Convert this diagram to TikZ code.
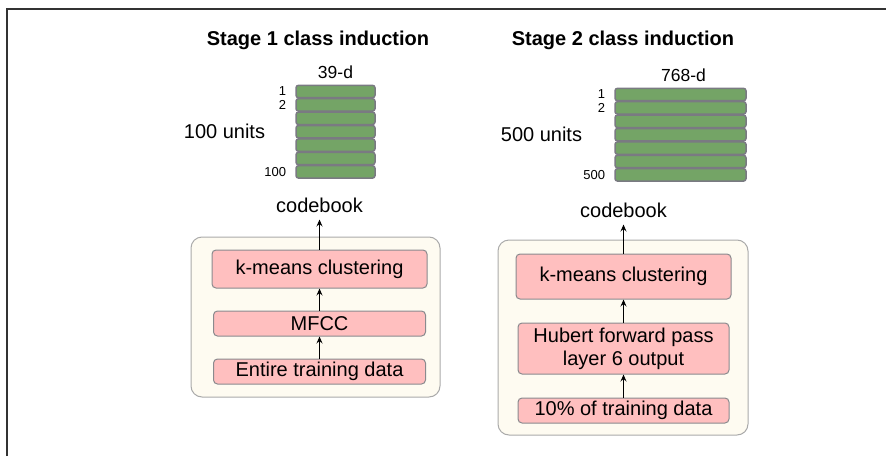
\documentclass[tikz,border=0pt]{standalone}
\usepackage{fontspec}
\setmainfont{Liberation Sans}
\usetikzlibrary{arrows,arrows.meta,positioning}
\definecolor{boxfill}{HTML}{FFBFBF}
\definecolor{boxline}{HTML}{8A8A8E}
\definecolor{barfill}{HTML}{74A466}
\definecolor{barline}{HTML}{7A7A82}
\definecolor{panelfill}{HTML}{FEFBF1}
\definecolor{panelline}{HTML}{AAAAAA}

\begin{document}
\begin{tikzpicture}[x=1pt,y=-1pt,node distance=22pt,
    font=\fontsize{20}{23}\selectfont,
    stepbox/.style={draw=boxline,fill=boxfill,rounded corners=4pt,line width=1pt,
      minimum width=212pt,minimum height=25pt,inner sep=1pt,align=center},
    unitbar/.style={draw=barline,fill=barfill,rounded corners=2.5pt,line width=1.5pt,
      minimum height=12.4pt,inner sep=0pt},
    panel/.style={draw=panelline,fill=panelfill,rounded corners=11pt,line width=1pt},
    flow/.style={-{Stealth[length=7pt,width=6pt,inset=2.5pt]},line width=1.3pt},
    small/.style={font=\fontsize{13}{13}\selectfont,inner sep=0pt},
    dim/.style={font=\fontsize{17.5}{18}\selectfont,inner sep=0pt},
    title/.style={font=\bfseries\fontsize{20}{23}\selectfont,inner sep=0pt}]
    \useasboundingbox (0,0) rectangle (886,458);
    \draw[line width=1.4pt,draw=black!80] (7,456) -- (7,9) -- (886,9);

    % stage 1
    \node[title] (t1) at (318,40) {Stage 1 class induction};
    \foreach \i in {1,...,7}
      \node[unitbar,minimum width=79pt] (a\i) at (335.5,{91.5+13.4*(\i-1)}) {};
    \node[small,left=9pt of a1] (a1l) {1};
    \node[small,left=9pt of a2] (a2l) {2};
    \node[small,left=9pt of a7] (a7l) {100};
    \node[inner sep=0pt,left=30pt of a4] (n1) {100 units};
    \node[dim,above=6pt of a1] (d1) {39-d};

    \draw[panel] (191,237) rectangle (440,397);
    \node[stepbox,minimum width=215pt,minimum height=38pt] (km1) at (319.5,269) {k-means clustering};
    \node[stepbox,below=of km1] (mf1) {MFCC};
    \node[stepbox,below=of mf1] (dat1) {Entire training data};
    \node[inner sep=7pt,above=30pt of km1] (cb1) {codebook};
    \draw[flow] (dat1) -- (mf1);
    \draw[flow] (mf1) -- (km1);
    \draw[flow] (km1) -- (cb1);

    % stage 2
    \node[title] (t2) at (623,40) {Stage 2 class induction};
    \foreach \i in {1,...,7}
      \node[unitbar,minimum width=131pt] (b\i) at (680.5,{94.5+13.4*(\i-1)}) {};
    \node[small,left=9pt of b1] (b1l) {1};
    \node[small,left=9pt of b2] (b2l) {2};
    \node[small,left=9pt of b7] (b7l) {500};
    \node[inner sep=0pt,left=32pt of b4] (n2) {500 units};
    \node[dim,above=6pt of b1,xshift=3pt] (d2) {768-d};

    \draw[panel] (498,240) rectangle (748,435);
    \node[stepbox,minimum width=215pt,minimum height=45pt] (km2) at (623.5,276.5) {k-means clustering};
    \node[stepbox,minimum width=211pt,minimum height=51pt,below=23pt of km2] (hub2) {Hubert forward pass\\layer 6 output};
    \node[stepbox,minimum width=211pt,below=23pt of hub2] (dat2) {10\% of training data};
    \node[inner sep=7pt,above=29pt of km2] (cb2) {codebook};
    \draw[flow] (dat2) -- (hub2);
    \draw[flow] (hub2) -- (km2);
    \draw[flow] (km2) -- (cb2);
\end{tikzpicture}
\end{document}
